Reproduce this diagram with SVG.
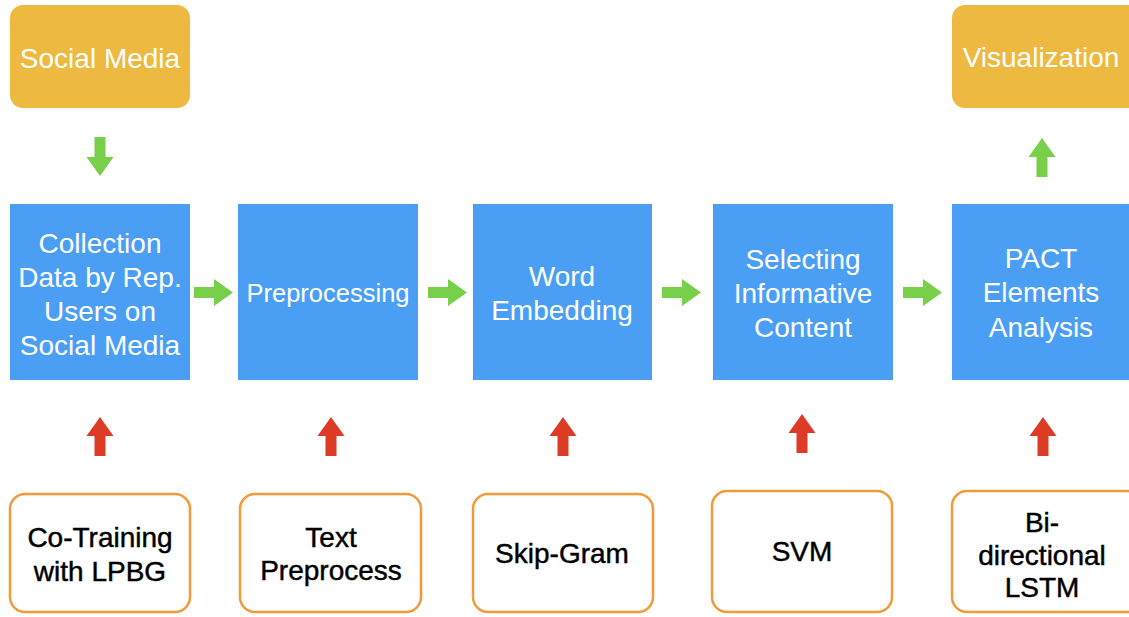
<svg xmlns="http://www.w3.org/2000/svg" xmlns:xlink="http://www.w3.org/1999/xlink" width="1129" height="617" viewBox="0 0 1129 617">
  <style>
    .io { fill: #EDB940; }
    .step { fill: #4A9FF5; }
    .tool { fill: #FFFFFF; stroke: #F09A3A; stroke-width: 2.5; }
    .flow { fill: #77CF4A; }
    .feed { fill: #DE3B26; }
    text { font-family: "Liberation Sans", Arial, Helvetica, sans-serif; font-size: 28px; text-anchor: middle; }
    .light { fill: #FFFFFF; }
    .dark { fill: #000000; stroke: #000000; stroke-width: 0.45; }
  </style>
  <defs>
    <!-- block arrow pointing right, tail centre at the origin -->
    <path id="arrow" d="M0,-5.5 H20 V-13.5 L39,0 L20,13.5 V5.5 H0 Z"/>
  </defs>

  <rect width="1129" height="617" fill="#FFFFFF"/>

  <!-- source and output -->
  <g id="social-media">
    <rect class="io" x="10" y="5" width="180" height="103" rx="13"/>
    <text class="light" x="100" y="68">Social Media</text>
  </g>
  <g id="visualization">
    <rect class="io" x="952" y="5" width="190" height="103" rx="13"/>
    <text class="light" x="1041" y="67">Visualization</text>
  </g>

  <!-- pipeline steps -->
  <g id="collection">
    <rect class="step" x="10" y="204" width="180" height="176"/>
    <text class="light" x="100" y="253">Collection</text>
    <text class="light" x="100" y="287">Data by Rep.</text>
    <text class="light" x="100" y="321">Users on</text>
    <text class="light" x="100" y="355">Social Media</text>
  </g>
  <g id="preprocessing">
    <rect class="step" x="238" y="204" width="180" height="176"/>
    <text class="light" x="328" y="302" style="font-size:25.5px">Preprocessing</text>
  </g>
  <g id="word-embedding">
    <rect class="step" x="473" y="204" width="179" height="176"/>
    <text class="light" x="562" y="286">Word</text>
    <text class="light" x="562" y="320">Embedding</text>
  </g>
  <g id="selecting">
    <rect class="step" x="713" y="204" width="180" height="176"/>
    <text class="light" x="803" y="269">Selecting</text>
    <text class="light" x="803" y="303">Informative</text>
    <text class="light" x="803" y="337">Content</text>
  </g>
  <g id="pact">
    <rect class="step" x="952" y="204" width="190" height="176"/>
    <text class="light" x="1041" y="268">PACT</text>
    <text class="light" x="1041" y="302">Elements</text>
    <text class="light" x="1041" y="337">Analysis</text>
  </g>

  <!-- methods -->
  <g id="co-training">
    <rect class="tool" x="10" y="494" width="180" height="118" rx="15"/>
    <text class="dark" x="100" y="547">Co-Training</text>
    <text class="dark" x="100" y="581">with LPBG</text>
  </g>
  <g id="text-preprocess">
    <rect class="tool" x="240" y="494" width="181" height="118" rx="15"/>
    <text class="dark" x="331" y="547">Text</text>
    <text class="dark" x="331" y="580">Preprocess</text>
  </g>
  <g id="skip-gram">
    <rect class="tool" x="473" y="494" width="180" height="118" rx="15"/>
    <text class="dark" x="562" y="563">Skip-Gram</text>
  </g>
  <g id="svm">
    <rect class="tool" x="712" y="491" width="180" height="121" rx="15"/>
    <text class="dark" x="802" y="561">SVM</text>
  </g>
  <g id="bi-lstm">
    <rect class="tool" x="952" y="491" width="190" height="121" rx="15"/>
    <text class="dark" x="1042" y="532">Bi-</text>
    <text class="dark" x="1042" y="565">directional</text>
    <text class="dark" x="1042" y="597">LSTM</text>
  </g>

  <!-- connectors -->
  <g id="connectors">
    <use xlink:href="#arrow" class="flow" transform="translate(100,137) rotate(90)"/>
    <use xlink:href="#arrow" class="flow" transform="translate(194,292.5)"/>
    <use xlink:href="#arrow" class="flow" transform="translate(428,292.5)"/>
    <use xlink:href="#arrow" class="flow" transform="translate(662,292.5)"/>
    <use xlink:href="#arrow" class="flow" transform="translate(903,292.5)"/>
    <use xlink:href="#arrow" class="flow" transform="translate(1042,177) rotate(-90)"/>

    <use xlink:href="#arrow" class="feed" transform="translate(100,456) rotate(-90)"/>
    <use xlink:href="#arrow" class="feed" transform="translate(331,456) rotate(-90)"/>
    <use xlink:href="#arrow" class="feed" transform="translate(563,456) rotate(-90)"/>
    <use xlink:href="#arrow" class="feed" transform="translate(802,453) rotate(-90)"/>
    <use xlink:href="#arrow" class="feed" transform="translate(1043,456) rotate(-90)"/>
  </g>
</svg>
